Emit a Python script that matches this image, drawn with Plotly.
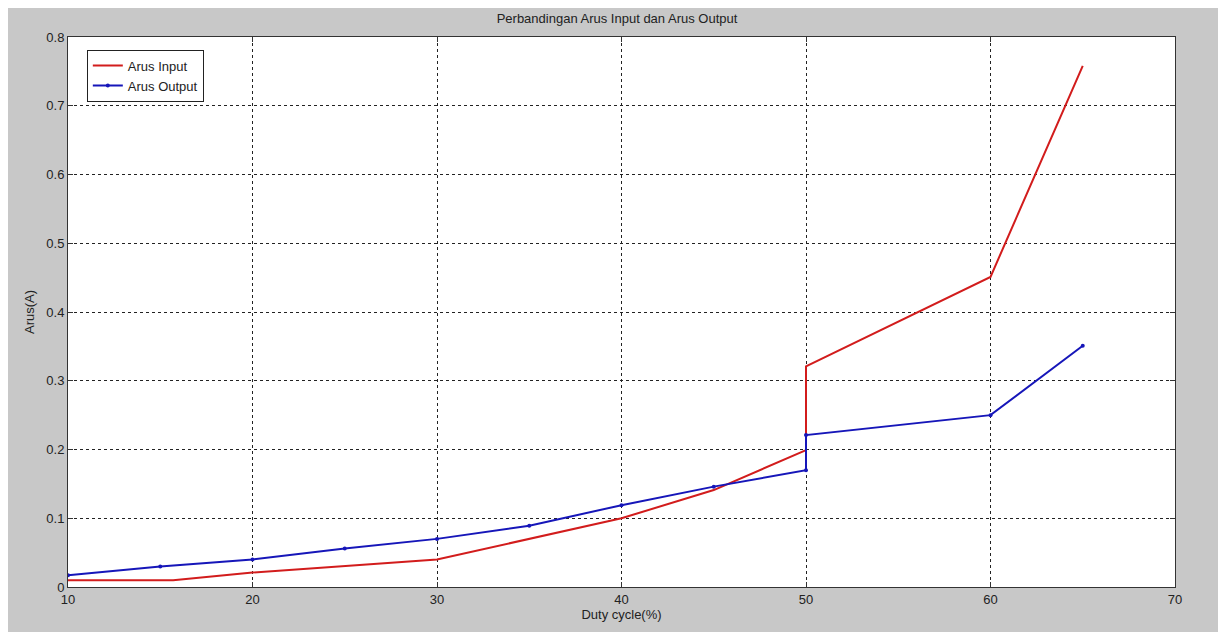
import plotly.graph_objects as go

# Data
duty_input = [10, 15.7, 20, 30, 40, 45, 50, 50, 60, 65]
arus_input = [0.010, 0.010, 0.021, 0.040, 0.100, 0.141, 0.199, 0.321, 0.451, 0.758]

duty_output = [10, 15, 20, 25, 30, 35, 40, 45, 50, 50, 60, 65]
arus_output = [0.017, 0.030, 0.040, 0.056, 0.070, 0.089, 0.119, 0.146, 0.170, 0.221, 0.250, 0.351]

x_ticks = [10, 20, 30, 40, 50, 60, 70]
y_ticks = [0, 0.1, 0.2, 0.3, 0.4, 0.5, 0.6, 0.7, 0.8]
y_tick_text = ["0", "0.1", "0.2", "0.3", "0.4", "0.5", "0.6", "0.7", "0.8"]

FONT = "Liberation Sans, Arial, sans-serif"
TXT = "#222222"

fig = go.Figure()
fig.add_trace(go.Scatter(
    x=duty_input, y=arus_input, mode="lines", name="Arus Input",
    line=dict(color="rgb(210,28,28)", width=2),
))
fig.add_trace(go.Scatter(
    x=duty_output, y=arus_output, mode="lines+markers", name="Arus Output",
    line=dict(color="rgb(22,22,185)", width=2),
    marker=dict(size=4, color="rgb(22,22,185)"),
))

axis_common = dict(
    showline=True, linecolor="#333333", linewidth=1, mirror="ticks",
    ticks="inside", ticklen=5, tickcolor="#333333",
    showgrid=True, gridcolor="#222222", gridwidth=1, griddash="3px,3px",
    zeroline=False, tickfont=dict(family=FONT, size=13, color=TXT),
)

fig.update_xaxes(
    range=[10, 70], tickvals=x_ticks,
    title=dict(text="Duty cycle(%)", font=dict(family=FONT, size=13, color=TXT), standoff=4),
    **axis_common,
)
fig.update_yaxes(
    range=[0, 0.8], tickvals=y_ticks, ticktext=y_tick_text,
    title=dict(text="Arus(A)", font=dict(family=FONT, size=13, color=TXT), standoff=8),
    **axis_common,
)

fig.update_layout(
    width=1218, height=624,
    margin=dict(l=60, r=51, t=29, b=39),
    paper_bgcolor="rgb(200,200,200)",
    plot_bgcolor="white",
    title=dict(text="Perbandingan Arus Input dan Arus Output", x=0.5, xanchor="center",
               y=0.984, yanchor="middle", yref="container",
               font=dict(family=FONT, size=13, color=TXT)),
    legend=dict(x=0.017, y=0.977, xanchor="left", yanchor="top",
                bgcolor="white", bordercolor="#222222", borderwidth=1,
                font=dict(family=FONT, size=13, color=TXT),
                tracegroupgap=0),
    showlegend=True,
)

fig.write_html("out.html")
